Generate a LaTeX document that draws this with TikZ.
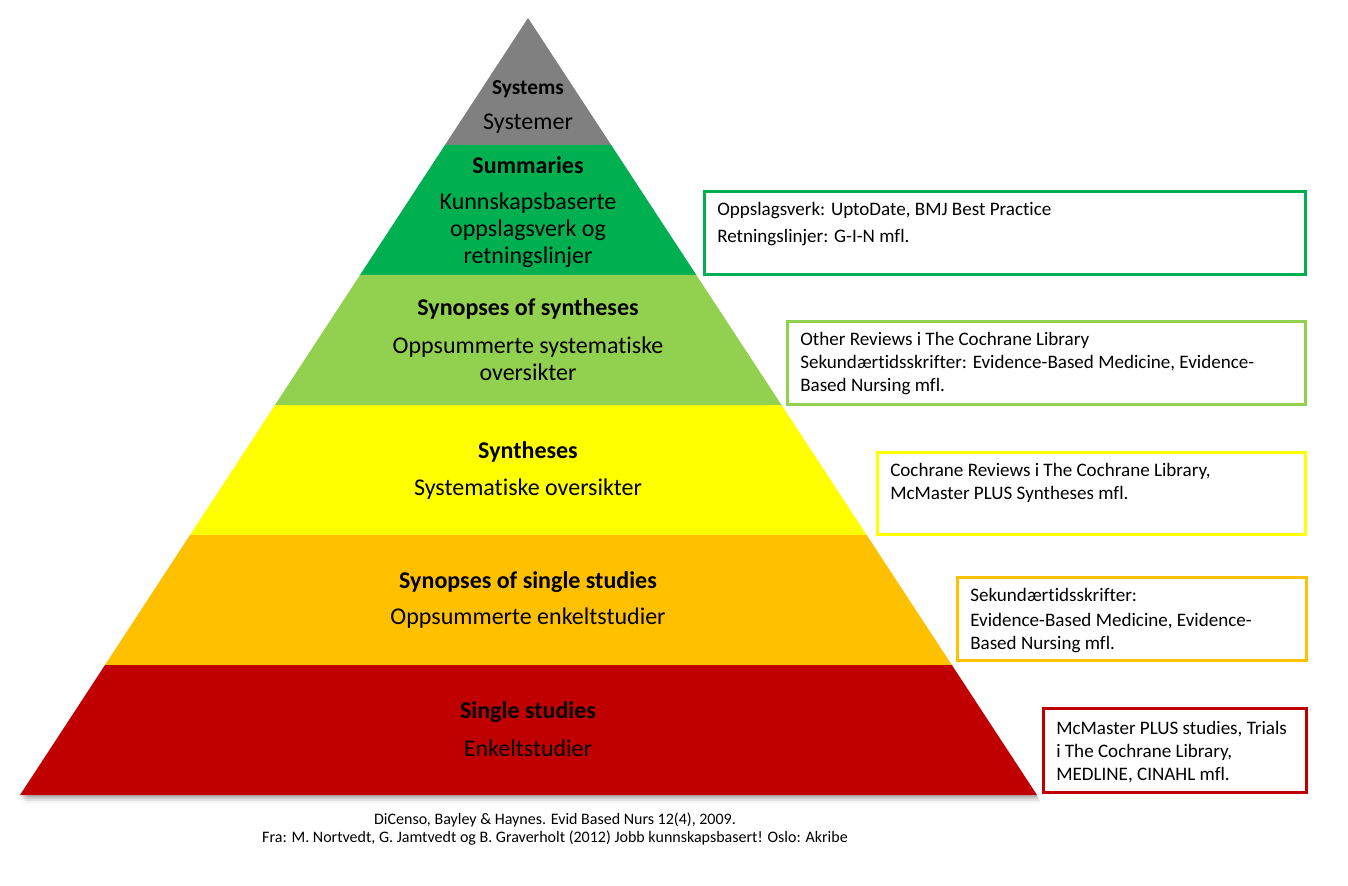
\documentclass[tikz,border=0pt]{standalone}
\usepackage{fontspec}
\setmainfont{Carlito}[Ligatures={NoCommon}]
\usepackage{tikz}
\usetikzlibrary{positioning,calc}
\definecolor{sysgray}{HTML}{808080}
\definecolor{sumgreen}{HTML}{00B050}
\definecolor{synlime}{HTML}{92D050}
\definecolor{synyellow}{HTML}{FFFF00}
\definecolor{singorange}{HTML}{FFC000}
\definecolor{singred}{HTML}{C00000}

\begin{document}
\begin{tikzpicture}[x=0.75pt,y=-0.75pt,
  tiertitle/.style={font=\fontsize{18}{20.25}\selectfont\bfseries},
  tiertext/.style={font=\fontsize{18}{20.25}\selectfont,align=center},
  refbox/.style={draw=#1,line width=2.2pt,anchor=north west,inner sep=0pt},
  reftext/.style={anchor=north west,inner sep=0pt,align=left,font=\fontsize{14.3}{17.25}\selectfont}]
  \def\px{0.75pt}
  \useasboundingbox (0,0) rectangle (1348,885);
  % pyramid corners
  \coordinate (apex) at (528,18);
  \coordinate (baseL) at (20,795);
  \coordinate (baseR) at (1037,795);
  % soft shadow under the base
  \foreach \d/\op in {2/0.12,4/0.10,6/0.07,8/0.04}
    \fill[black,opacity=\op] ([shift={(\d/2,\d)}]baseL) -- ([shift={(\d/2,\d)}]baseR) -- ([shift={(0,\d)}]apex) -- cycle;
  % tiers, top to bottom
  \foreach \ya/\yb/\col in {18/145/sysgray,145/275/sumgreen,275/405/synlime,405/535/synyellow,535/665/singorange,665/795/singred}
    \fill[\col] ($(apex)!{(\ya-18)/777}!(baseL)$) -- ($(apex)!{(\yb-18)/777}!(baseL)$)
      -- ($(apex)!{(\yb-18)/777}!(baseR)$) -- ($(apex)!{(\ya-18)/777}!(baseR)$) -- cycle;
  % tier labels
  \node[tiertitle,font=\fontsize{16}{18}\selectfont\bfseries] (sysTitle) at (528,89) {Systems};
  \node[tiertext] (sysText) at (528,124) {Systemer};
  \node[tiertitle] (sumTitle) at (528,165) {Summaries};
  \node[tiertext] (sumText) at (528,230) {Kunnskapsbaserte\\oppslagsverk og\\retningslinjer};
  \node[tiertitle] (synopTitle) at (528,309) {Synopses of syntheses};
  \node[tiertext] (synopText) at (528,359) {Oppsummerte systematiske\\oversikter};
  \node[tiertitle] (synTitle) at (528,452) {Syntheses};
  \node[tiertext] (synText) at (528,489) {Systematiske oversikter};
  \node[tiertitle] (singopTitle) at (528,582) {Synopses of single studies};
  \node[tiertext] (singopText) at (528,618) {Oppsummerte enkeltstudier};
  \node[tiertitle] (singTitle) at (528,712) {Single studies};
  \node[tiertext] (singText) at (528,748) {Enkeltstudier};
  % reference boxes
  \node[refbox=sumgreen,minimum width=601*\px,minimum height=83*\px] (boxSum) at (703,190) {};
  \node[refbox=synlime,minimum width=518*\px,minimum height=83*\px] (boxSynop) at (786,320) {};
  \node[refbox=synyellow,minimum width=428*\px,minimum height=82*\px] (boxSyn) at (876,451) {};
  \node[refbox=singorange,minimum width=349*\px,minimum height=83*\px] (boxSingop) at (956,576) {};
  \node[refbox=singred,minimum width=263*\px,minimum height=84*\px] (boxSing) at (1042,707) {};
  \node[reftext] (txtSum) at ([shift={(14,12)}]boxSum.north west)
    {Oppslagsverk: UptoDate, BMJ Best Practice\\[3pt]Retningslinjer: G-I-N mfl.};
  \node[reftext] (txtSynop) at ([shift={(14,12)}]boxSynop.north west)
    {Other Reviews i The Cochrane Library\\Sekundærtidsskrifter: Evidence-Based Medicine, Evidence-\\Based Nursing mfl.};
  \node[reftext] (txtSyn) at ([shift={(14,12)}]boxSyn.north west)
    {Cochrane Reviews i The Cochrane Library,\\McMaster PLUS Syntheses mfl.};
  \node[reftext] (txtSingop) at ([shift={(14,12)}]boxSingop.north west)
    {Sekundærtidsskrifter:\\[1.5pt]Evidence-Based Medicine, Evidence-\\Based Nursing mfl.};
  \node[reftext] (txtSing) at ([shift={(14,14)}]boxSing.north west)
    {McMaster PLUS studies, Trials\\i The Cochrane Library,\\MEDLINE, CINAHL mfl.};
  % source
  \node[font=\fontsize{12}{13.5}\selectfont,align=center] (source) at (555,829)
    {DiCenso, Bayley \& Haynes. Evid Based Nurs 12(4), 2009.\\Fra: M. Nortvedt, G. Jamtvedt og B. Graverholt (2012) Jobb kunnskapsbasert! Oslo: Akribe};
\end{tikzpicture}
\end{document}
